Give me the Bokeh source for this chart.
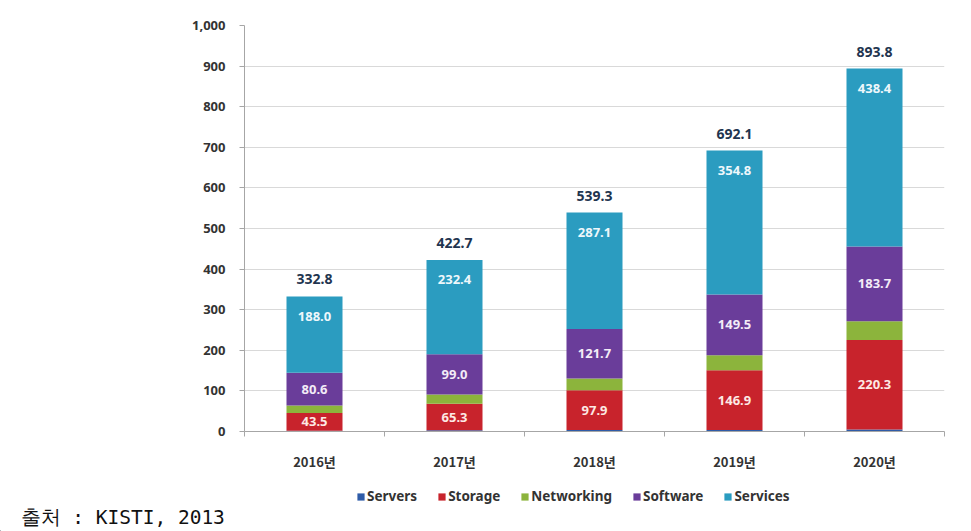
from bokeh.plotting import figure
from bokeh.layouts import column
from bokeh.models import (ColumnDataSource, FixedTicker, NumeralTickFormatter, Legend,
                          LegendItem, Range1d)
from bokeh.core.properties import value
from bokeh.embed import file_html
from bokeh.resources import INLINE

# ---- data ----
years = ["2016년", "2017년", "2018년", "2019년", "2020년"]
servers = [2.0, 3.0, 3.5, 4.0, 5.0]
storage = [43.5, 65.3, 97.9, 146.9, 220.3]
networking = [18.7, 23.0, 29.1, 36.9, 46.4]
software = [80.6, 99.0, 121.7, 149.5, 183.7]
services = [188.0, 232.4, 287.1, 354.8, 438.4]
totals = [332.8, 422.7, 539.3, 692.1, 893.8]
series_names = ["Servers", "Storage", "Networking", "Software", "Services"]
colors = ["#2f5ca8", "#c8232c", "#8cb43c", "#6a3d9a", "#2b9cc0"]
y_ticks = [0, 100, 200, 300, 400, 500, 600, 700, 800, 900, 1000]
source_text = "출처 : KISTI, 2013"

n = len(years)
xs = [i + 0.5 for i in range(n)]

src = ColumnDataSource(dict(
    x=xs, Servers=servers, Storage=storage, Networking=networking,
    Software=software, Services=services, total=totals,
    total_lbl=["%.1f" % v for v in totals],
    stor_mid=[a + b / 2 for a, b in zip(servers, storage)],
    stor_lbl=["%.1f" % v for v in storage],
    soft_mid=[a + b + c + d / 2 for a, b, c, d in zip(servers, storage, networking, software)],
    soft_lbl=["%.1f" % v for v in software],
    serv_lbl=["%.1f" % v for v in services],
))

W = 963
p = figure(width=W, height=474, output_backend="svg", toolbar_location=None,
           x_range=Range1d(0, n), y_range=Range1d(0, 1000),
           min_border_left=244, min_border_right=19, min_border_top=25, min_border_bottom=43)
p.frame_align = False
p.outline_line_color = None
p.background_fill_color = "white"
p.border_fill_color = "white"

renderers = p.vbar_stack(series_names, x="x", width=0.4, source=src, color=colors, line_color=None)

font = "Noto Sans"
p.text(x="x", y="total", text="total_lbl", source=src, text_align="center", text_baseline="middle",
       y_offset=-17, text_font=value(font), text_font_style="bold", text_font_size="14px",
       text_color="#1f3550")
p.text(x="x", y="total", text="serv_lbl", source=src, text_align="center", text_baseline="middle",
       y_offset=20, text_font=value(font), text_font_style="bold", text_font_size="13px",
       text_color="#eef7fb")
p.text(x="x", y="soft_mid", text="soft_lbl", source=src, text_align="center", text_baseline="middle",
       text_font=value(font), text_font_style="bold", text_font_size="13px", text_color="#f3ecf7")
p.text(x="x", y="stor_mid", text="stor_lbl", source=src, text_align="center", text_baseline="middle",
       text_font=value(font), text_font_style="bold", text_font_size="13px", text_color="#fde9e4")

p.yaxis.ticker = FixedTicker(ticks=y_ticks)
p.yaxis.formatter = NumeralTickFormatter(format="0,0")
p.yaxis.major_label_text_font = font
p.yaxis.major_label_text_font_style = "bold"
p.yaxis.major_label_text_font_size = "13px"
p.yaxis.major_label_text_color = "#333333"
p.yaxis.axis_line_color = "#a6a6a6"
p.yaxis.major_tick_line_color = "#a6a6a6"
p.yaxis.major_tick_in = 0
p.yaxis.major_tick_out = 5
p.yaxis.minor_tick_line_color = None
p.yaxis.major_label_standoff = 14

p.xaxis.ticker = FixedTicker(ticks=xs, minor_ticks=list(range(n + 1)))
p.xaxis.major_label_overrides = {x: y for x, y in zip(xs, years)}
p.xaxis.major_label_text_font = "Noto Sans CJK KR"
p.xaxis.major_label_text_font_style = "bold"
p.xaxis.major_label_text_font_size = "13px"
p.xaxis.major_label_text_color = "#333333"
p.xaxis.major_tick_line_color = None
p.xaxis.minor_tick_line_color = "#a6a6a6"
p.xaxis.minor_tick_in = 0
p.xaxis.minor_tick_out = 5
p.xaxis.axis_line_color = "#a6a6a6"
p.xaxis.major_label_standoff = 14

p.xgrid.grid_line_color = None
p.ygrid.grid_line_color = "#d9d9d9"
p.ygrid.ticker = FixedTicker(ticks=y_ticks)

# ---- bottom strip: legend + source ----
H2 = 57
p2 = figure(width=W, height=H2, output_backend="svg", toolbar_location=None,
            x_range=Range1d(0, W), y_range=Range1d(0, H2),
            min_border_left=0, min_border_right=0, min_border_top=0, min_border_bottom=0)
p2.frame_align = False
p2.axis.visible = False
p2.grid.grid_line_color = None
p2.outline_line_color = None
p2.background_fill_color = "white"
p2.border_fill_color = "white"

# swatch-only renderers (placed outside the visible range; they only feed the legend)
dummy = [p2.vbar(x=[-1000], top=[1], width=1, fill_color=c, line_color=None) for c in colors]
legend = Legend(items=[LegendItem(label=nm, renderers=[r]) for nm, r in zip(series_names, dummy)],
                orientation="horizontal", location=(356, 26),
                label_text_font="Noto Sans", label_text_font_size="13.5px",
                label_text_font_style="bold", label_text_color="#333333",
                glyph_width=9, glyph_height=9, spacing=20, label_standoff=2,
                border_line_color=None, background_fill_alpha=0, padding=0, margin=0)
p2.add_layout(legend, "center")

p2.text(x=[20], y=[H2 - 43], text=[source_text], text_baseline="middle", text_align="left",
        text_font=value("DejaVu Sans Mono"), text_font_size="19.5px", text_color="#111111")

open("out.html", "w").write(file_html(column(p, p2, spacing=0), INLINE))
